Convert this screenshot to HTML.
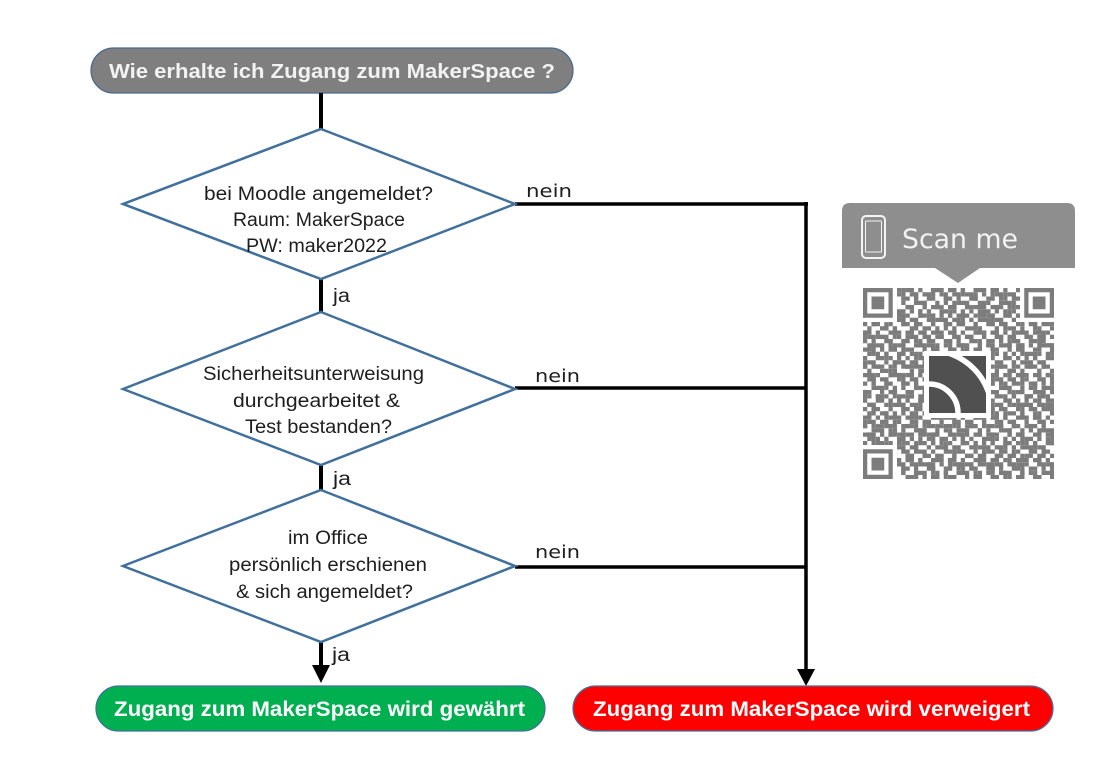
<!DOCTYPE html>
<html>
<head>
<meta charset="utf-8">
<style>
html,body{margin:0;padding:0;background:#fff;}
svg{display:block;}
.dt{font-family:"Liberation Sans",Arial,sans-serif;font-size:19px;fill:#1e1e1e;}
.nein{font-family:"DejaVu Sans","Liberation Sans",sans-serif;font-size:18px;fill:#1e1e1e;}
.pill{font-family:"Liberation Sans",Arial,sans-serif;font-weight:bold;}
</style>
</head>
<body>
<svg width="1111" height="770" viewBox="0 0 1111 770" xmlns="http://www.w3.org/2000/svg">
<defs>
  <pattern id="qrp" patternUnits="userSpaceOnUse" x="863" y="288" width="42.5" height="42.5">
    <g transform="scale(4.25)" fill="#7c7c7c">
      <rect x="0" y="0" width="2" height="1"/><rect x="3" y="0" width="1" height="1"/><rect x="6" y="0" width="3" height="1"/>
      <rect x="1" y="1" width="2" height="1"/><rect x="4" y="1" width="2" height="1"/><rect x="8" y="1" width="1" height="1"/>
      <rect x="0" y="2" width="1" height="1"/><rect x="2" y="2" width="1" height="1"/><rect x="5" y="2" width="2" height="1"/><rect x="9" y="2" width="1" height="1"/>
      <rect x="2" y="3" width="3" height="1"/><rect x="7" y="3" width="1" height="1"/><rect x="9" y="3" width="1" height="1"/>
      <rect x="0" y="4" width="2" height="1"/><rect x="4" y="4" width="1" height="1"/><rect x="6" y="4" width="2" height="1"/>
      <rect x="1" y="5" width="1" height="1"/><rect x="3" y="5" width="1" height="1"/><rect x="5" y="5" width="1" height="1"/><rect x="8" y="5" width="2" height="1"/>
      <rect x="0" y="6" width="1" height="1"/><rect x="3" y="6" width="2" height="1"/><rect x="6" y="6" width="1" height="1"/><rect x="8" y="6" width="1" height="1"/>
      <rect x="1" y="7" width="2" height="1"/><rect x="5" y="7" width="1" height="1"/><rect x="7" y="7" width="3" height="1"/>
      <rect x="0" y="8" width="1" height="1"/><rect x="2" y="8" width="2" height="1"/><rect x="6" y="8" width="1" height="1"/><rect x="9" y="8" width="1" height="1"/>
      <rect x="1" y="9" width="1" height="1"/><rect x="4" y="9" width="2" height="1"/><rect x="7" y="9" width="1" height="1"/>
    </g>
  </pattern>
  <pattern id="qrp2" patternUnits="userSpaceOnUse" x="863" y="288" width="29.75" height="29.75">
    <g transform="scale(4.25)" fill="#7c7c7c">
      <rect x="2" y="0" width="1" height="2"/><rect x="5" y="1" width="1" height="2"/>
      <rect x="0" y="3" width="1" height="2"/><rect x="3" y="4" width="2" height="1"/>
      <rect x="6" y="5" width="1" height="2"/><rect x="1" y="6" width="2" height="1"/>
    </g>
  </pattern>
  <clipPath id="logoclip"><rect x="929" y="356" width="57" height="57"/></clipPath>
</defs>

<!-- Title pill -->
<rect x="91" y="48" width="482" height="45" rx="22.5" ry="22.5" fill="#7f7f7f" stroke="#4a6a8e" stroke-width="1.2"/>
<text class="pill" x="109" y="78" font-size="20" fill="#f2f2f2" textLength="446" lengthAdjust="spacingAndGlyphs">Wie erhalte ich Zugang zum MakerSpace ?</text>

<!-- vertical connectors -->
<line x1="321" y1="93" x2="321" y2="130" stroke="#000" stroke-width="4"/>
<line x1="321" y1="278" x2="321" y2="313" stroke="#000" stroke-width="4"/>
<line x1="321" y1="464" x2="321" y2="491" stroke="#000" stroke-width="4"/>
<line x1="321" y1="641" x2="321" y2="667" stroke="#000" stroke-width="4"/>
<polygon points="312,665 330,665 321,683" fill="#000"/>

<!-- nein connectors -->
<line x1="515" y1="204" x2="808" y2="204" stroke="#000" stroke-width="3.5"/>
<line x1="515" y1="388" x2="806" y2="388" stroke="#000" stroke-width="3.5"/>
<line x1="515" y1="567" x2="806" y2="567" stroke="#000" stroke-width="3.5"/>
<line x1="806" y1="202" x2="806" y2="671" stroke="#000" stroke-width="3.5"/>
<polygon points="797,669 815,669 806,686" fill="#000"/>

<!-- Diamonds -->
<polygon points="321,129 515,204 321,279 123,204" fill="#fff" stroke="#41709c" stroke-width="2.5"/>
<polygon points="321,312 515,389 321,465 123,389" fill="#fff" stroke="#41709c" stroke-width="2.5"/>
<polygon points="321,490 515,566 321,642 123,566" fill="#fff" stroke="#41709c" stroke-width="2.5"/>

<!-- Diamond texts -->
<text class="dt" x="204" y="200" textLength="229" lengthAdjust="spacingAndGlyphs">bei Moodle  angemeldet?</text>
<text class="dt" x="233" y="226" textLength="172" lengthAdjust="spacingAndGlyphs">Raum: MakerSpace</text>
<text class="dt" x="246" y="252" textLength="141" lengthAdjust="spacingAndGlyphs">PW: maker2022</text>

<text class="dt" x="203" y="380" textLength="221" lengthAdjust="spacingAndGlyphs">Sicherheitsunterweisung</text>
<text class="dt" x="233" y="407" textLength="167" lengthAdjust="spacingAndGlyphs">durchgearbeitet  &amp;</text>
<text class="dt" x="245" y="433" textLength="147" lengthAdjust="spacingAndGlyphs">Test bestanden?</text>

<text class="dt" x="288" y="544" textLength="80" lengthAdjust="spacingAndGlyphs">im Office</text>
<text class="dt" x="229" y="571" textLength="198" lengthAdjust="spacingAndGlyphs">persönlich erschienen</text>
<text class="dt" x="236" y="598" textLength="177" lengthAdjust="spacingAndGlyphs">&amp; sich angemeldet?</text>

<!-- ja labels -->
<text class="dt" x="333" y="302" textLength="17" lengthAdjust="spacingAndGlyphs">ja</text>
<text class="dt" x="333" y="485" textLength="18" lengthAdjust="spacingAndGlyphs">ja</text>
<text class="dt" x="332" y="661" textLength="18" lengthAdjust="spacingAndGlyphs">ja</text>

<!-- nein labels -->
<text class="nein" x="526" y="197" textLength="46" lengthAdjust="spacingAndGlyphs">nein</text>
<text class="nein" x="535" y="382" textLength="45" lengthAdjust="spacingAndGlyphs">nein</text>
<text class="nein" x="535" y="558" textLength="45" lengthAdjust="spacingAndGlyphs">nein</text>

<!-- Result pills -->
<rect x="96" y="686" width="449" height="45" rx="22.5" ry="22.5" fill="#00b050" stroke="#41709c" stroke-width="1.2"/>
<text class="pill" x="114" y="716" font-size="21.5" fill="#ffffff" textLength="411" lengthAdjust="spacingAndGlyphs">Zugang zum MakerSpace wird gewährt</text>

<rect x="573" y="686" width="480" height="45" rx="22.5" ry="22.5" fill="#ff0000" stroke="#41709c" stroke-width="1.2"/>
<text class="pill" x="593" y="716" font-size="21.5" fill="#ffffff" textLength="437" lengthAdjust="spacingAndGlyphs">Zugang zum MakerSpace wird verweigert</text>

<!-- Scan me badge -->
<path d="M842,211 Q842,203 850,203 L1067,203 Q1075,203 1075,211 L1075,268 L980,268 L958,283 L935,268 L842,268 Z" fill="#8e8e8e"/>
<rect x="862" y="216" width="23" height="42" rx="4" ry="4" fill="none" stroke="#f4f4f4" stroke-width="2"/>
<rect x="865.5" y="221" width="16" height="31" rx="1" ry="1" fill="none" stroke="#f4f4f4" stroke-width="1"/>
<text x="902" y="248" font-family="'DejaVu Sans','Liberation Sans',sans-serif" font-size="27" fill="#f2f2f2" textLength="116" lengthAdjust="spacingAndGlyphs">Scan me</text>

<!-- QR code -->
<rect x="863" y="288" width="191" height="191" fill="url(#qrp)"/>
<rect x="863" y="288" width="191" height="191" fill="url(#qrp2)"/>
<!-- finder clear zones -->
<rect x="863" y="288" width="34" height="34" fill="#fff"/>
<rect x="1020" y="288" width="34" height="34" fill="#fff"/>
<rect x="863" y="445" width="34" height="34" fill="#fff"/>
<!-- finders -->
<g fill="#7c7c7c">
  <path d="M863,288h29.75v29.75h-29.75z M867.25,292.25v21.25h21.25v-21.25z" fill-rule="evenodd"/>
  <rect x="871.5" y="296.5" width="12.75" height="12.75"/>
  <path d="M1024.25,288h29.75v29.75h-29.75z M1028.5,292.25v21.25h21.25v-21.25z" fill-rule="evenodd"/>
  <rect x="1032.75" y="296.5" width="12.75" height="12.75"/>
  <path d="M863,449.25h29.75v29.75h-29.75z M867.25,453.5v21.25h21.25v-21.25z" fill-rule="evenodd"/>
  <rect x="871.5" y="457.75" width="12.75" height="12.75"/>
</g>
<!-- logo -->
<rect x="924" y="351" width="67" height="67" fill="#fff"/>
<rect x="929" y="356" width="57" height="57" fill="#505050"/>
<g clip-path="url(#logoclip)" fill="none" stroke="#fff">
  <circle cx="929" cy="413" r="29" stroke-width="5.5"/>
  <circle cx="929" cy="413" r="63" stroke-width="5.5"/>
</g>
</svg>
</body>
</html>
